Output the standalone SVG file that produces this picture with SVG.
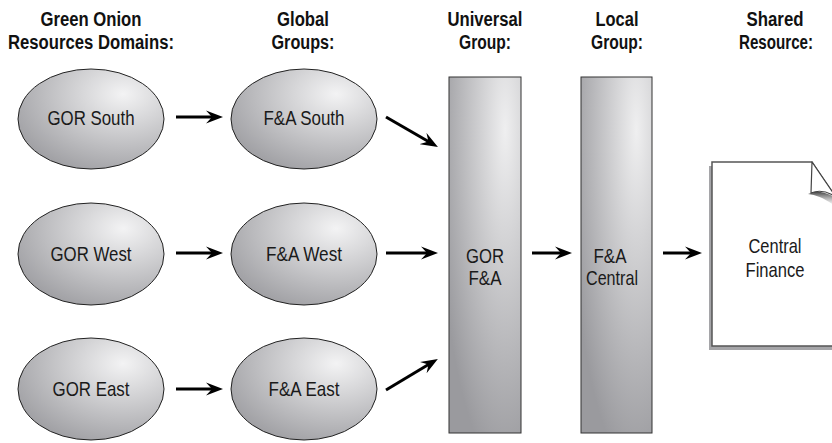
<svg xmlns="http://www.w3.org/2000/svg" width="832" height="443" viewBox="0 0 832 443">
<style>
.hdr{font-family:"Liberation Sans",Arial,sans-serif;font-weight:bold;font-size:19.5px;fill:#111;text-anchor:middle}
.lbl{font-family:"Liberation Sans",Arial,sans-serif;font-size:21px;fill:#1a1a1a;text-anchor:middle}
.ell{fill:url(#gEll);stroke:#222;stroke-width:1}
.bar{fill:url(#gBar);stroke:#333;stroke-width:1}
.conn{stroke:#000;stroke-width:3;fill:none;marker-end:url(#arr)}
</style>
<defs>
<radialGradient id="gEll" cx="0.72" cy="0.25" r="0.85" fx="0.72" fy="0.25">
<stop offset="0" stop-color="#f3f3f4"/>
<stop offset="1" stop-color="#9e9ea2"/>
</radialGradient>
<radialGradient id="gBar" cx="0.78" cy="0.15" r="0.95" fx="0.78" fy="0.15">
<stop offset="0" stop-color="#efeff0"/>
<stop offset="1" stop-color="#9a9a9e"/>
</radialGradient>
<linearGradient id="gCurl" x1="0" y1="0" x2="0" y2="1">
<stop offset="0" stop-color="#444"/>
<stop offset="1" stop-color="#fff" stop-opacity="0"/>
</linearGradient>
<marker id="arr" markerUnits="userSpaceOnUse" viewBox="-17 -7 17 14" markerWidth="17" markerHeight="14" refX="-8" refY="0" orient="auto">
<path d="M0,0 L-17,-6.5 L-11,0 L-17,6.5 Z" fill="#000"/>
</marker>
</defs>

<g id="headers">
<text class="hdr" x="91" y="26" textLength="101" lengthAdjust="spacingAndGlyphs">Green Onion</text>
<text class="hdr" x="91" y="49" textLength="166" lengthAdjust="spacingAndGlyphs">Resources Domains:</text>
<text class="hdr" x="303" y="26" textLength="52" lengthAdjust="spacingAndGlyphs">Global</text>
<text class="hdr" x="303" y="49" textLength="63" lengthAdjust="spacingAndGlyphs">Groups:</text>
<text class="hdr" x="485" y="26" textLength="75" lengthAdjust="spacingAndGlyphs">Universal</text>
<text class="hdr" x="485" y="49" textLength="52" lengthAdjust="spacingAndGlyphs">Group:</text>
<text class="hdr" x="617" y="26" textLength="43" lengthAdjust="spacingAndGlyphs">Local</text>
<text class="hdr" x="617" y="49" textLength="52" lengthAdjust="spacingAndGlyphs">Group:</text>
<text class="hdr" x="775" y="26" textLength="57" lengthAdjust="spacingAndGlyphs">Shared</text>
<text class="hdr" x="776" y="49" textLength="74" lengthAdjust="spacingAndGlyphs">Resource:</text>
</g>

<g id="gor-south"><ellipse class="ell" cx="91" cy="119" rx="73" ry="50"/><text class="lbl" x="91" y="125" textLength="87" lengthAdjust="spacingAndGlyphs">GOR South</text></g>
<g id="gor-west"><ellipse class="ell" cx="91" cy="254" rx="73" ry="51"/><text class="lbl" x="91" y="261" textLength="81" lengthAdjust="spacingAndGlyphs">GOR West</text></g>
<g id="gor-east"><ellipse class="ell" cx="91" cy="389" rx="73" ry="51"/><text class="lbl" x="91" y="396" textLength="77" lengthAdjust="spacingAndGlyphs">GOR East</text></g>

<g id="fa-south"><ellipse class="ell" cx="304" cy="119" rx="73" ry="50"/><text class="lbl" x="304" y="125" textLength="81" lengthAdjust="spacingAndGlyphs">F&amp;A South</text></g>
<g id="fa-west"><ellipse class="ell" cx="304" cy="254" rx="73" ry="51"/><text class="lbl" x="304" y="261" textLength="76" lengthAdjust="spacingAndGlyphs">F&amp;A West</text></g>
<g id="fa-east"><ellipse class="ell" cx="304" cy="389" rx="73" ry="51"/><text class="lbl" x="304" y="396" textLength="71" lengthAdjust="spacingAndGlyphs">F&amp;A East</text></g>

<g id="gor-fa"><rect class="bar" x="449" y="77" width="72" height="356"/><text class="lbl" x="485" y="263" textLength="38" lengthAdjust="spacingAndGlyphs">GOR</text><text class="lbl" x="485" y="285" textLength="33" lengthAdjust="spacingAndGlyphs">F&amp;A</text></g>
<g id="fa-central"><rect class="bar" x="581" y="77" width="71" height="356"/><text class="lbl" x="610" y="263" textLength="33" lengthAdjust="spacingAndGlyphs">F&amp;A</text><text class="lbl" x="612" y="285" textLength="52" lengthAdjust="spacingAndGlyphs">Central</text></g>

<g id="central-finance">
<path d="M709,166 H716 V350 H709 Z M709,343 H840 V350 H709 Z" fill="#a5a5a8"/>
<path d="M712,162 H812 L840,204 V346 H712 Z" fill="#fff" stroke="#555" stroke-width="1.5"/>
<path d="M808,194 C818,195 828,200 840,210 L840,200 C828,193 818,190 811,193 Z" fill="url(#gCurl)"/>
<path d="M812,162 L811,193 C818,190 827,191 836,197 Z" fill="#fff" stroke="#444" stroke-width="1.2" stroke-linejoin="round"/>
<text class="lbl" x="775" y="253" textLength="53" lengthAdjust="spacingAndGlyphs">Central</text>
<text class="lbl" x="775" y="277" textLength="59" lengthAdjust="spacingAndGlyphs">Finance</text>
</g>

<g id="connectors">
<line class="conn" x1="176" y1="117" x2="215" y2="117"/>
<line class="conn" x1="176" y1="253" x2="215" y2="253"/>
<line class="conn" x1="176" y1="389" x2="215" y2="389"/>
<line class="conn" x1="386" y1="117" x2="431" y2="143"/>
<line class="conn" x1="386" y1="253" x2="430" y2="253"/>
<line class="conn" x1="386" y1="390" x2="431" y2="363"/>
<line class="conn" x1="532" y1="253" x2="564" y2="253"/>
<line class="conn" x1="663" y1="253" x2="694" y2="253"/>
</g>
</svg>
